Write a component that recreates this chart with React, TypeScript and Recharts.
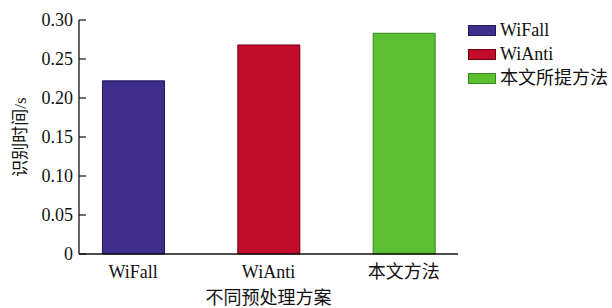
import { BarChart, Bar, XAxis, YAxis, Cell, Legend, Label } from 'recharts'

const methods = ['WiFall', 'WiAnti', '本文方法']
const legendNames = ['WiFall', 'WiAnti', '本文所提方法']
const positions = [1, 2, 3]
const times = [0.222, 0.268, 0.283]
const yTicks = [0, 0.05, 0.1, 0.15, 0.2, 0.25, 0.3]

const fills = ['#3e2d8b', '#c20a2b', '#5bbf2f']
const strokes = ['#24165e', '#6e0016', '#338a1c']

const FONT = 'Liberation Serif, Noto Sans CJK SC'

const data = positions.map((x, i) => ({ x, name: methods[i], time: times[i] }))

function LegendBox(): React.JSX.Element {
  return (
    <div style={{ fontFamily: FONT, fontSize: 18, color: '#111' }}>
      {legendNames.map((n, i) => (
        <div key={n} style={{ display: 'flex', alignItems: 'center', height: 24 }}>
          <span
            style={{
              display: 'inline-block',
              width: 26,
              height: 9,
              background: fills[i],
              border: `1px solid ${strokes[i]}`,
              marginRight: 4
            }}
          />
          <span style={{ lineHeight: '24px', fontFamily: FONT }}>{n}</span>
        </div>
      ))}
    </div>
  )
}

export default function App(): React.JSX.Element {
  return (
    <div style={{ position: 'absolute', left: 0, top: 0, width: 612, height: 308, background: '#fff', fontFamily: FONT }}>
      <BarChart
        width={612}
        height={308}
        data={data}
        margin={{ top: 20, right: 14, bottom: 24, left: 19 }}
      >
        <XAxis
          dataKey="x"
          type="number"
          domain={[0.6, 3.4]}
          ticks={positions}
          tickFormatter={(v: number) => methods[v - 1]}
          tickLine={false}
          tickSize={0}
          tickMargin={11}
          height={30}
          axisLine={{ stroke: '#111', strokeWidth: 1.3 }}
          tick={{ fontSize: 18, fill: '#111', style: { fontFamily: FONT } }}
        >
          <Label
            value="不同预处理方案"
            position="bottom"
            offset={7}
            style={{ fontSize: 18, fill: '#111', fontFamily: FONT }}
          />
        </XAxis>
        <XAxis
          xAxisId="top"
          orientation="top"
          type="number"
          domain={[0.6, 3.4]}
          tick={false}
          tickLine={false}
          height={0}
          axisLine={{ stroke: '#111', strokeWidth: 1.3 }}
        />
        <YAxis
          domain={[0, 0.3]}
          ticks={yTicks}
          interval={0}
          tickFormatter={(v: number) => (v === 0 ? '0' : v.toFixed(2))}
          width={60}
          tickSize={-7}
          tickMargin={13}
          tickLine={{ stroke: '#111', strokeWidth: 1.2 }}
          axisLine={{ stroke: '#111', strokeWidth: 1.3 }}
          tick={{ fontSize: 18, fill: '#111', style: { fontFamily: FONT } }}
        >
          <Label
            value="识别时间/s"
            angle={-90}
            position="insideLeft"
            offset={1}
            style={{ fontSize: 17, fill: '#111', fontFamily: FONT, textAnchor: 'middle' }}
          />
        </YAxis>
        <YAxis
          yAxisId="right"
          orientation="right"
          domain={[0, 0.3]}
          tick={false}
          tickLine={false}
          width={0}
          axisLine={{ stroke: '#111', strokeWidth: 1.3 }}
        />
        <Legend
          layout="vertical"
          align="right"
          verticalAlign="top"
          content={() => <LegendBox />}
          wrapperStyle={{ left: 468, top: 18, width: 140 }}
        />
        <Bar dataKey="time" barSize={62} isAnimationActive={false} strokeWidth={1}>
          {data.map((d, i) => (
            <Cell key={d.name} fill={fills[i]} stroke={strokes[i]} />
          ))}
        </Bar>
      </BarChart>
    </div>
  )
}
